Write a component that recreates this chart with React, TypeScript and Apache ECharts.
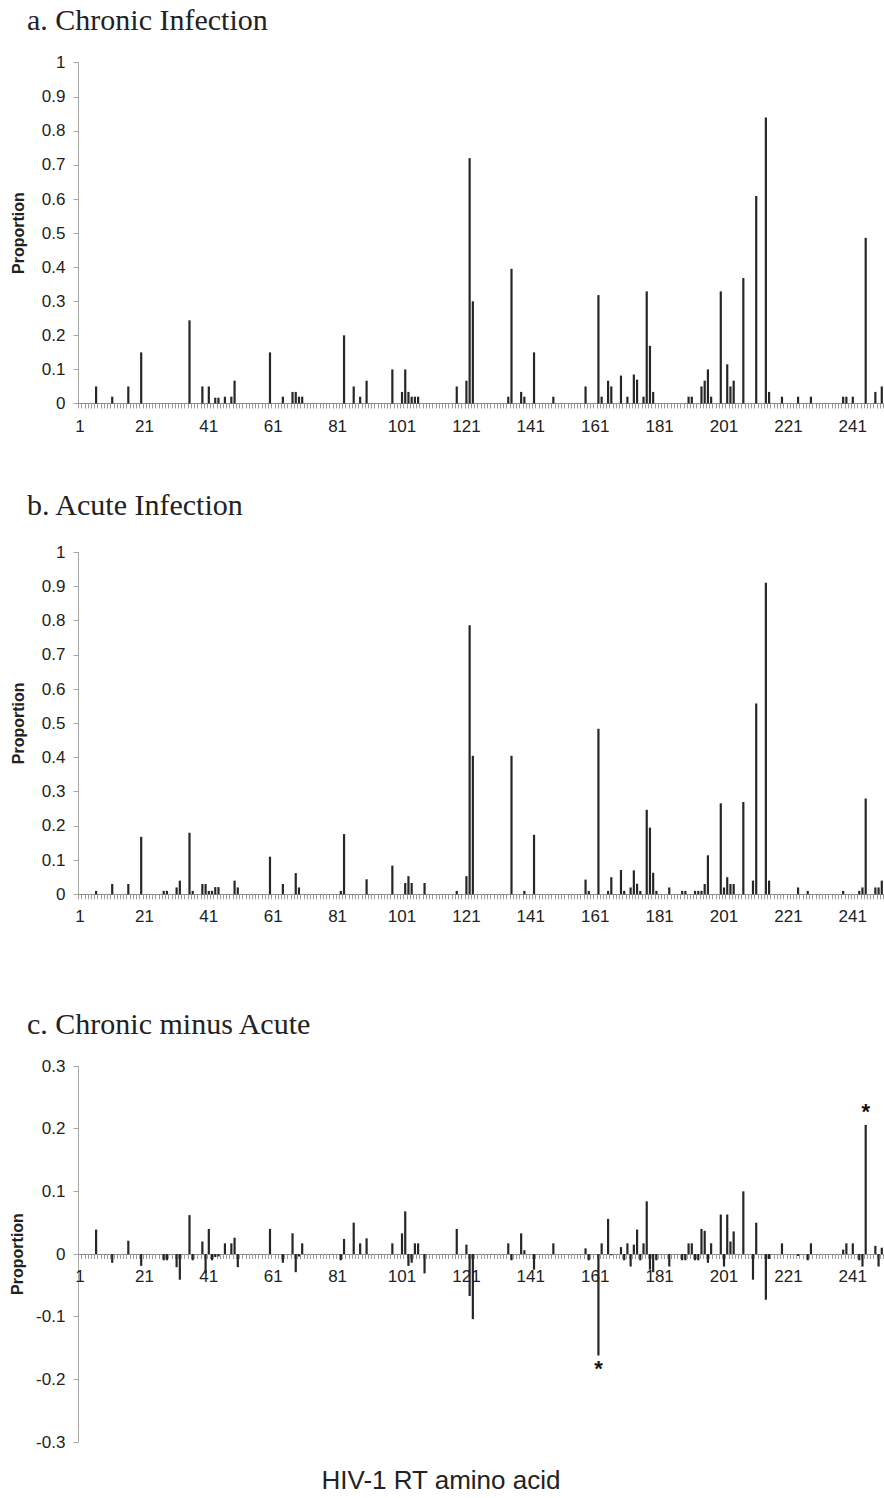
import React, { useEffect, useRef } from "react";
import * as echarts from "echarts";

// x categories: HIV-1 RT amino acid positions 1..250
const N_POS = 250;
const positions: string[] = Array.from({ length: N_POS }, (_, i) => String(i + 1));

// a. Chronic infection (position, proportion)
const chronicPos = [6, 11, 16, 20, 35, 39, 41, 43, 44, 46, 48, 49, 60, 64, 67, 68, 69, 70, 83, 86, 88, 90, 98, 101, 102, 103, 104, 105, 106, 118, 121, 122, 123, 134, 135, 138, 139, 142, 148, 158, 162, 163, 165, 166, 169, 171, 173, 174, 176, 177, 178, 179, 190, 191, 194, 195, 196, 197, 200, 202, 203, 204, 207, 211, 214, 215, 219, 224, 228, 238, 239, 241, 245, 248, 250];
const chronicVal = [0.05, 0.02, 0.05, 0.15, 0.244, 0.05, 0.05, 0.017, 0.017, 0.02, 0.02, 0.067, 0.15, 0.02, 0.034, 0.034, 0.02, 0.02, 0.2, 0.05, 0.02, 0.067, 0.1, 0.034, 0.1, 0.034, 0.02, 0.02, 0.02, 0.05, 0.067, 0.72, 0.3, 0.02, 0.395, 0.034, 0.02, 0.15, 0.02, 0.05, 0.318, 0.02, 0.067, 0.05, 0.082, 0.02, 0.085, 0.07, 0.02, 0.329, 0.169, 0.034, 0.02, 0.02, 0.05, 0.067, 0.1, 0.02, 0.329, 0.115, 0.05, 0.067, 0.368, 0.609, 0.839, 0.034, 0.02, 0.02, 0.02, 0.02, 0.02, 0.02, 0.486, 0.034, 0.05];

// b. Acute infection (position, proportion)
const acutePos = [6, 11, 16, 20, 27, 28, 31, 32, 35, 36, 39, 40, 41, 42, 43, 44, 49, 50, 60, 64, 68, 69, 82, 83, 90, 98, 102, 103, 104, 108, 118, 121, 122, 123, 135, 139, 142, 158, 159, 162, 165, 166, 169, 170, 172, 173, 174, 175, 177, 178, 179, 180, 184, 188, 189, 192, 193, 194, 195, 196, 200, 201, 202, 203, 204, 207, 210, 211, 214, 215, 224, 227, 238, 243, 244, 245, 248, 249, 250];
const acuteVal = [0.01, 0.03, 0.03, 0.168, 0.01, 0.01, 0.02, 0.04, 0.18, 0.01, 0.03, 0.03, 0.01, 0.01, 0.021, 0.021, 0.04, 0.02, 0.11, 0.03, 0.062, 0.02, 0.01, 0.176, 0.044, 0.084, 0.033, 0.053, 0.033, 0.033, 0.01, 0.053, 0.787, 0.405, 0.405, 0.01, 0.174, 0.043, 0.01, 0.484, 0.01, 0.05, 0.071, 0.01, 0.02, 0.07, 0.031, 0.01, 0.247, 0.195, 0.063, 0.01, 0.02, 0.01, 0.01, 0.01, 0.01, 0.01, 0.03, 0.114, 0.266, 0.02, 0.05, 0.03, 0.03, 0.27, 0.04, 0.558, 0.911, 0.04, 0.02, 0.01, 0.01, 0.01, 0.02, 0.28, 0.02, 0.02, 0.04];

// c. Chronic minus acute (position, difference)
const diffPos = [6, 11, 16, 20, 27, 28, 31, 32, 35, 36, 39, 40, 41, 42, 43, 44, 46, 48, 49, 50, 60, 64, 67, 68, 69, 70, 82, 83, 86, 88, 90, 98, 101, 102, 103, 104, 105, 106, 108, 118, 121, 122, 123, 134, 135, 138, 139, 142, 148, 158, 159, 162, 163, 165, 166, 169, 170, 171, 172, 173, 174, 175, 176, 177, 178, 179, 180, 184, 188, 189, 190, 191, 192, 193, 194, 195, 196, 197, 200, 201, 202, 203, 204, 207, 210, 211, 214, 215, 219, 224, 227, 228, 238, 239, 241, 243, 244, 245, 248, 249, 250];
const diffVal = [0.039, -0.014, 0.021, -0.019, -0.01, -0.01, -0.021, -0.041, 0.062, -0.01, 0.02, -0.031, 0.04, -0.01, -0.005, -0.004, 0.017, 0.017, 0.026, -0.021, 0.04, -0.014, 0.033, -0.029, -0.004, 0.017, -0.01, 0.024, 0.05, 0.017, 0.025, 0.017, 0.033, 0.068, -0.019, -0.014, 0.017, 0.017, -0.031, 0.04, 0.015, -0.067, -0.104, 0.017, -0.01, 0.033, 0.006, -0.025, 0.017, 0.009, -0.01, -0.162, 0.017, 0.056, -0.002, 0.011, -0.01, 0.017, -0.02, 0.015, 0.039, -0.01, 0.017, 0.084, -0.025, -0.029, -0.01, -0.02, -0.01, -0.01, 0.017, 0.017, -0.01, -0.01, 0.04, 0.037, -0.014, 0.017, 0.063, -0.02, 0.063, 0.02, 0.036, 0.1, -0.041, 0.05, -0.073, -0.008, 0.017, -0.003, -0.01, 0.017, 0.007, 0.017, 0.017, -0.01, -0.02, 0.206, 0.013, -0.02, 0.01];

// significant positions marked with an asterisk
const starPos = [162, 245];

const panelTitles = ["a. Chronic Infection", "b. Acute Infection", "c. Chronic minus Acute"];
const xAxisTitle = "HIV-1 RT amino acid";
const yAxisTitle = "Proportion";

function buildSeries(pos: number[], val: number[], stars: number[] = []) {
  const arr: any[] = positions.map(() => "-");
  pos.forEach((p, i) => {
    const v = val[i];
    if (stars.includes(p)) {
      arr[p - 1] = {
        value: v,
        label: {
          show: true,
          formatter: "*",
          position: v < 0 ? "bottom" : "top",
          distance: 2,
          fontSize: 22,
          fontWeight: "bold",
          color: "#111",
          fontFamily: "Liberation Sans, Arial, sans-serif",
        },
      };
    } else {
      arr[p - 1] = v;
    }
  });
  return arr;
}

const SANS = "Liberation Sans, Arial, Helvetica, sans-serif";
const SERIF = "Liberation Serif, Times New Roman, serif";

export default function App() {
  const ref = useRef<HTMLDivElement>(null);
  useEffect(() => {
    if (!ref.current) return;
    const chart = echarts.init(ref.current, undefined, { renderer: "svg" });
    const grids = [
      { left: 78.4, top: 62.7, width: 805, height: 340.8 },
      { left: 78.4, top: 552.3, width: 805, height: 342 },
      { left: 78.4, top: 1066, width: 805, height: 376 },
    ];
    const yRanges = [
      [0, 1],
      [0, 1],
      [-0.3, 0.3],
    ];
    // offset that brings panel c's category axis (line, ticks, labels) onto y = 0
    const xOffsets = [0, 0, -376 / 2];
    const xAxes = grids.map((_, gi) => ({
      type: "category",
      gridIndex: gi,
      data: positions,
      boundaryGap: true,
      offset: xOffsets[gi],
      axisLine: { show: true, onZero: false, lineStyle: { color: "#8a8a8a", width: 1 } },
      axisTick: { show: true, interval: 0, length: 5, lineStyle: { color: "#9a9a9a", width: 1 } },
      axisLabel: {
        interval: 19,
        fontSize: 17,
        color: "#222",
        fontFamily: SANS,
        margin: 14,
      },
      splitLine: { show: false },
    }));
    const yAxes = grids.map((_, gi) => ({
      type: "value",
      gridIndex: gi,
      min: yRanges[gi][0],
      max: yRanges[gi][1],
      interval: 0.1,
      axisLine: { show: true, lineStyle: { color: "#a8a8a8", width: 1 } },
      axisTick: { show: true, length: 5, lineStyle: { color: "#a8a8a8" } },
      splitLine: { show: false },
      axisLabel: {
        fontSize: 17,
        color: "#222",
        fontFamily: SANS,
        margin: 13,
        formatter: (v: number) => String(Math.round(v * 10) / 10),
      },
      name: yAxisTitle,
      nameLocation: "middle",
      nameGap: 52,
      nameTextStyle: { fontSize: 16, fontWeight: "bold", color: "#222", fontFamily: SANS },
    }));
    const seriesData = [
      buildSeries(chronicPos, chronicVal),
      buildSeries(acutePos, acuteVal),
      buildSeries(diffPos, diffVal, starPos),
    ];
    const series = seriesData.map((d, gi) => ({
      type: "bar",
      xAxisIndex: gi,
      yAxisIndex: gi,
      data: d,
      barWidth: 2.2,
      itemStyle: { color: "#262626" },
      emphasis: { disabled: true },
    }));
    const titleY = [20, 505, 1024];
    const graphics: any[] = panelTitles.map((t, i) => ({
      type: "text",
      left: 27,
      top: titleY[i] - 16,
      style: { text: t, fontSize: 30, fontFamily: SERIF, fill: "#222" },
    }));
    graphics.push({
      type: "text",
      x: 441,
      y: 1480,
      style: {
        text: xAxisTitle,
        fontSize: 26,
        fontFamily: SANS,
        fill: "#222",
        align: "center",
        verticalAlign: "middle",
      },
    });
    chart.setOption({
      animation: false,
      backgroundColor: "#fff",
      grid: grids,
      xAxis: xAxes,
      yAxis: yAxes,
      series,
      graphic: graphics,
    });
    return () => chart.dispose();
  }, []);
  return (
    <div
      ref={ref}
      style={{ position: "absolute", left: 0, top: 0, width: 884, height: 1498 }}
    />
  );
}
